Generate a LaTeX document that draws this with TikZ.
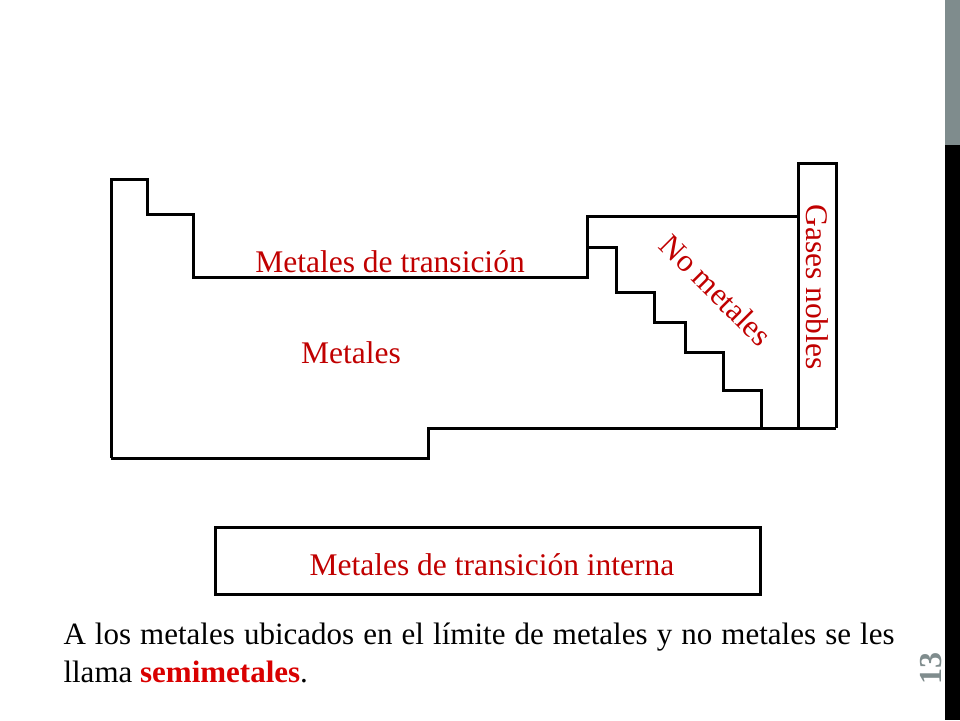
\documentclass[tikz,border=0pt]{standalone}
\usepackage{fontspec}
\setmainfont{Liberation Serif}
\definecolor{lab}{HTML}{C00000}
\definecolor{barg}{HTML}{7F8C8D}
\begin{document}
\begin{tikzpicture}[x=1pt,y=-1pt,line width=3pt,line join=miter,
  lbl/.style={text=lab,font=\fontsize{31.5}{34}\selectfont,inner sep=0pt}]
\useasboundingbox (0,0) rectangle (960,720);
\fill[barg] (945,0) rectangle (960,145);
\fill[black] (945,145) rectangle (960,720);
% main outline
\draw (111,458) -- (111,179) -- (147,179) -- (147,214) -- (193,214) -- (193,277) -- (587,277) -- (587,216) -- (798,216);
\draw (111,458) -- (428,458) -- (428,428) -- (836,428);
\draw (587,247) -- (616,247) -- (616,292) -- (654,292) -- (654,322) -- (685,322) -- (685,352) -- (723,352) -- (723,390) -- (761,390) -- (761,428);
\draw (798,428) -- (798,163) -- (836,163) -- (836,428);
\node[draw,minimum width=545pt,minimum height=67pt,inner sep=0pt] (it) at (487.5,560.5) {};
\node[lbl] (t1) at (492,565) {Metales de transición interna};
\node[lbl] (t2) at (390,262) {Metales de transición};
\node[lbl] (t3) at (351,353) {Metales};
\node[lbl,rotate=-45] (t4) at (716,290) {No metales};
\node[lbl,rotate=-90] (t5) at (817,287) {Gases nobles};
\node[text width=831pt,align=justify,anchor=north west,inner sep=0pt,font=\fontsize{31}{38}\selectfont] (p) at (62,621)
 {A los metales ubicados en el límite de metales y no metales se les\linebreak llama \textbf{\textcolor{red!85!black}{semimetales}}.};
\node[rotate=90,text=barg,font=\bfseries\fontsize{32}{34}\selectfont,inner sep=0pt] (n) at (931,668) {13};
\end{tikzpicture}
\end{document}
